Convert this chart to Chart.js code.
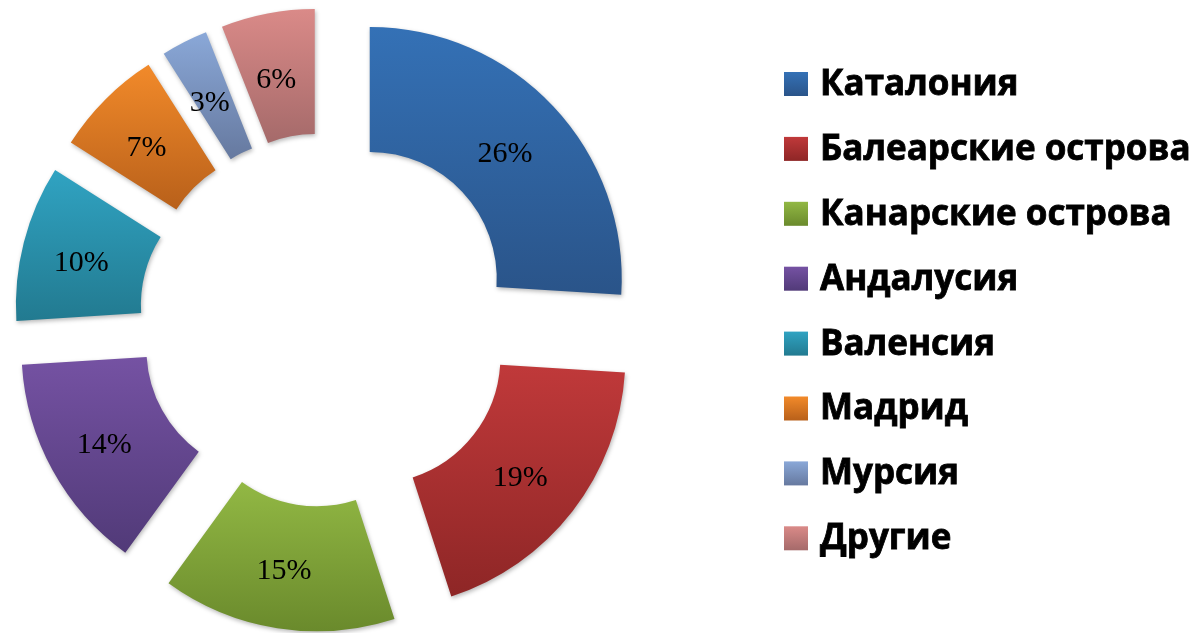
<!DOCTYPE html>
<html>
<head>
<meta charset="utf-8">
<script src="https://cdn.jsdelivr.net/npm/chart.js@4.4.1/dist/chart.umd.min.js"></script>
<style>
html,body{margin:0;padding:0;background:#fff;}
canvas{display:block;}
</style>
</head>
<body>
<canvas id="c" width="1194" height="633"></canvas>
<script>
const labels = ['Каталония','Балеарские острова','Канарские острова','Андалусия','Валенсия','Мадрид','Мурсия','Другие'];
const values = [26,19,15,14,10,7,3,6];
const colorsTop = ['#3471b6','#c0393a','#92b844','#7552a3','#30a3c2','#f28a2a','#8aa8d8','#da8a88'];
const colorsBottom = ['#2a5489','#8e2626','#6a8a2c','#513a78','#227a90','#b8601a','#66799f','#a56a6a'];

const EXPLODE = 60;      // px radial explosion of each slice
const OUTER = 252;
const CUT = 0.504;
const total = values.reduce((a,b)=>a+b,0);

// Doughnut controller that draws each arc pushed outward along its mid angle
class ExplodedDoughnut extends Chart.DoughnutController {
  draw(){
    const ctx = this.chart.ctx;
    const meta = this._cachedMeta;
    for (const arc of meta.data){
      const mid = (arc.startAngle + arc.endAngle)/2;
      ctx.save();
      ctx.translate(Math.cos(mid)*EXPLODE, Math.sin(mid)*EXPLODE);
      arc.draw(ctx, this.chart.chartArea);
      ctx.restore();
    }
  }
}
ExplodedDoughnut.id = 'explodedDoughnut';
ExplodedDoughnut.defaults = Chart.DoughnutController.defaults;
ExplodedDoughnut.overrides = Chart.DoughnutController.overrides;
Chart.register(ExplodedDoughnut);

function sliceAngles(i){
  let s = 0; for (let k=0;k<i;k++) s += values[k];
  const a0 = -Math.PI/2 + s/total*2*Math.PI;
  const a1 = a0 + values[i]/total*2*Math.PI;
  return [a0,a1];
}

function gradFor(context){
  const chart = context.chart;
  const i = context.dataIndex;
  const ca = chart.chartArea;
  if (!ca) return colorsTop[i];
  const cy = (ca.top+ca.bottom)/2;
  const [a0,a1] = sliceAngles(i);
  let minY = Infinity, maxY = -Infinity;
  for (let k=0;k<=40;k++){
    const a = a0 + (a1-a0)*k/40;
    for (const r of [OUTER, OUTER*CUT]){
      const y = cy + Math.sin(a)*r;
      minY = Math.min(minY,y); maxY = Math.max(maxY,y);
    }
  }
  const g = chart.ctx.createLinearGradient(0,minY,0,maxY);
  g.addColorStop(0,colorsTop[i]);
  g.addColorStop(1,colorsBottom[i]);
  return g;
}

const shadowPlugin = {
  id:'shadow',
  beforeDatasetsDraw(chart){
    const ctx = chart.ctx;
    ctx.save();
    ctx.shadowColor = 'rgba(0,0,0,0.28)';
    ctx.shadowBlur = 4;
    ctx.shadowOffsetX = 1;
    ctx.shadowOffsetY = 2;
  },
  afterDatasetsDraw(chart){
    chart.ctx.restore();
  }
};

const labelPlugin = {
  id:'sliceLabels',
  afterDatasetsDraw(chart){
    const ctx = chart.ctx;
    const meta = chart.getDatasetMeta(0);
    ctx.save();
    ctx.font = '30px "Liberation Serif", "Times New Roman", serif';
    ctx.fillStyle = '#000';
    ctx.textAlign = 'center';
    ctx.textBaseline = 'middle';
    meta.data.forEach((arc,i)=>{
      const p = arc.getProps(['x','y','startAngle','endAngle','innerRadius','outerRadius']);
      const mid = (p.startAngle+p.endAngle)/2;
      const d = EXPLODE + (p.innerRadius+p.outerRadius)/2;
      const pct = Math.round(values[i]/total*100) + '%';
      ctx.fillText(pct, p.x + Math.cos(mid)*d - 3, p.y + Math.sin(mid)*d + 5);
    });
    ctx.restore();
  }
};

const legendPlugin = {
  id:'sideLegend',
  afterDraw(chart){
    const ctx = chart.ctx;
    ctx.save();
    ctx.font = 'bold 35px "Open Sans", sans-serif';
    ctx.textBaseline = 'middle';
    ctx.textAlign = 'left';
    ctx.lineWidth = 0.8;
    ctx.strokeStyle = '#000';
    labels.forEach((lab,i)=>{
      const yc = 84 + i*64.9;
      const g = ctx.createLinearGradient(0,yc-12,0,yc+12);
      g.addColorStop(0,colorsTop[i]); g.addColorStop(1,colorsBottom[i]);
      ctx.fillStyle = g;
      ctx.fillRect(784,yc-12,24,24);
      ctx.fillStyle = '#000';
      ctx.fillText(lab, 820, yc+1);
      ctx.strokeText(lab, 820, yc+1);
    });
    ctx.restore();
  }
};

new Chart(document.getElementById('c'), {
  type:'explodedDoughnut',
  data:{
    labels: labels,
    datasets:[{
      data: values,
      backgroundColor: gradFor,
      borderWidth: 0
    }]
  },
  options:{
    responsive:false,
    animation:false,
    radius: OUTER,
    cutout: (CUT*100)+'%',
    layout:{padding:{left:0,top:7,right:542,bottom:0}},
    plugins:{legend:{display:false},tooltip:{enabled:false}},
    events:[]
  },
  plugins:[shadowPlugin,labelPlugin,legendPlugin]
});
</script>
</body>
</html>
